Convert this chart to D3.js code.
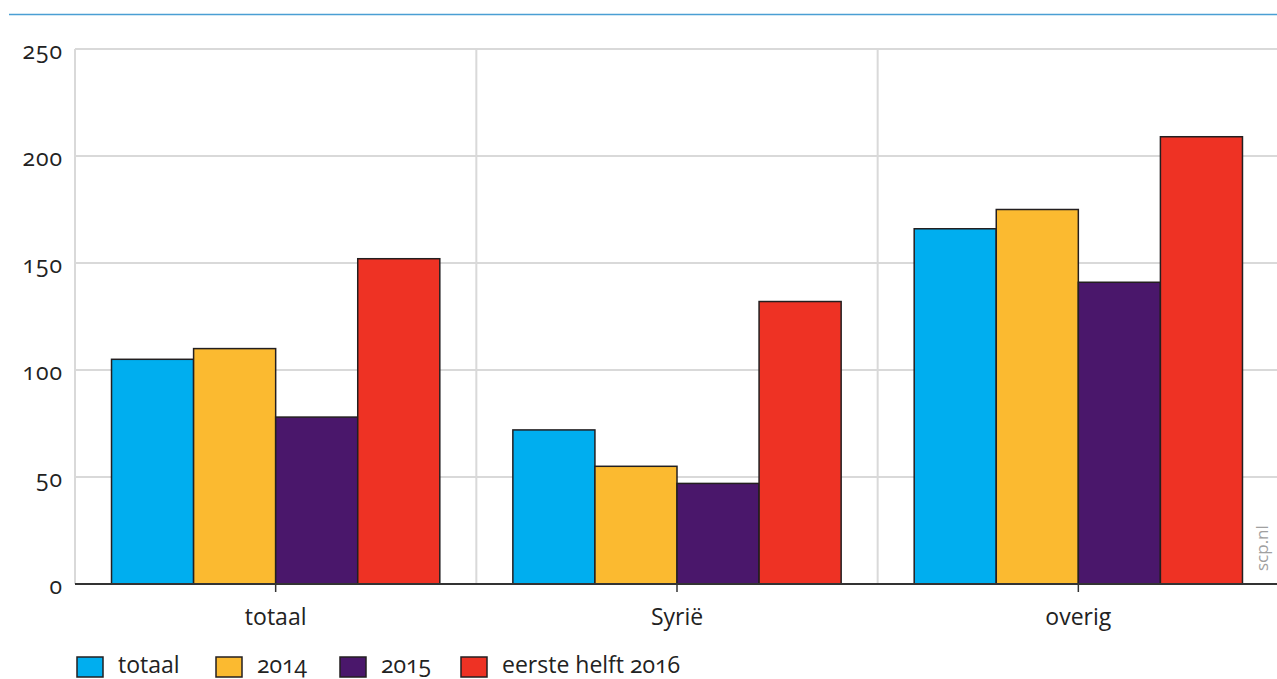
<!DOCTYPE html>
<html><head><meta charset="utf-8">
<script src="https://cdn.jsdelivr.net/npm/d3@7"></script>
<style>
body{margin:0;background:#fff;}
text{font-family:"Open Sans",sans-serif;fill:#222;font-variant-numeric:oldstyle-nums;}
</style></head><body>
<svg id="c" width="1277" height="679"></svg>
<script>
const categories = ["totaal","Syrië","overig"];
const seriesNames = ["totaal","2014","2015","eerste helft 2016"];
const seriesColors = ["#00aeef","#fbba30","#4a176b","#ee3224"];
const valTotaal = [105,72,166];
const val2014 = [110,55,175];
const val2015 = [78,47,141];
const val2016 = [152,132,209];
const yTicks = [0,50,100,150,200,250];

const series = [valTotaal,val2014,val2015,val2016];
const svg = d3.select("#c");
const m = {l:75,t:49};
const W = 1279;
const x0 = d3.scaleBand().domain(categories).range([m.l,W]).paddingInner(0).paddingOuter(0);
const x1 = d3.scaleBand().domain(d3.range(4)).range([0,x0.bandwidth()]).paddingOuter(0.445).paddingInner(0);
const y = d3.scaleLinear().domain([0,250]).range([584,49]);

// top line
svg.append("line").attr("x1",9).attr("x2",1277).attr("y1",14.5).attr("y2",14.5).attr("stroke","#4a9fd4").attr("stroke-width",1.5);

// grid
svg.append("g").selectAll("line").data(yTicks.filter(d=>d>0)).join("line")
  .attr("x1",m.l).attr("x2",W).attr("y1",d=>y(d)).attr("y2",d=>y(d))
  .attr("stroke","#d9d9d9").attr("stroke-width",2);
const vb = [m.l, ...categories.slice(1).map(c=>x0(c))];
svg.append("g").selectAll("line").data(vb).join("line")
  .attr("x1",d=>d).attr("x2",d=>d).attr("y1",y(250)).attr("y2",y(0))
  .attr("stroke","#d9d9d9").attr("stroke-width",2);

// y labels
const ya = svg.append("g").attr("transform",`translate(${m.l},0)`)
  .call(d3.axisLeft(y).tickValues(yTicks).tickSize(0).tickPadding(12));
ya.select(".domain").remove();
ya.selectAll("text").attr("font-size",23).attr("font-family","Open Sans").attr("fill","#222")
  .attr("letter-spacing","1px").attr("dy","0.43em");

// bars
const g = svg.append("g");
categories.forEach((c,ci)=>{
  series.forEach((s,si)=>{
    g.append("rect").attr("x",x0(c)+x1(si)).attr("width",x1.bandwidth())
      .attr("y",y(s[ci])).attr("height",y(0)-y(s[ci]))
      .attr("fill",seriesColors[si]).attr("stroke","#231f20").attr("stroke-width",1.5);
  });
});

// x axis
const xa = svg.append("g").attr("transform",`translate(0,${y(0)})`)
  .call(d3.axisBottom(x0).tickSize(8).tickPadding(17));
xa.select(".domain").attr("stroke","#333").attr("stroke-width",2).attr("d",`M${m.l},0H${W}`);
xa.selectAll(".tick line").attr("stroke","#333").attr("stroke-width",1.5);
xa.selectAll("text").attr("font-size",23).attr("font-family","Open Sans").attr("fill","#222");

// watermark
svg.append("text").attr("transform","translate(1268,571) rotate(-90)")
  .attr("font-size",17).style("fill","#a0a0a0").text("scp.nl");

// legend
const legX = [77,216,340,461];
const lg = svg.append("g");
seriesNames.forEach((n,i)=>{
  lg.append("rect").attr("x",legX[i]).attr("y",657).attr("width",26).attr("height",20)
    .attr("fill",seriesColors[i]).attr("stroke","#231f20").attr("stroke-width",1.5);
  lg.append("text").attr("x",legX[i]+41).attr("y",673).attr("font-size",23).text(n);
});
</script></body></html>
